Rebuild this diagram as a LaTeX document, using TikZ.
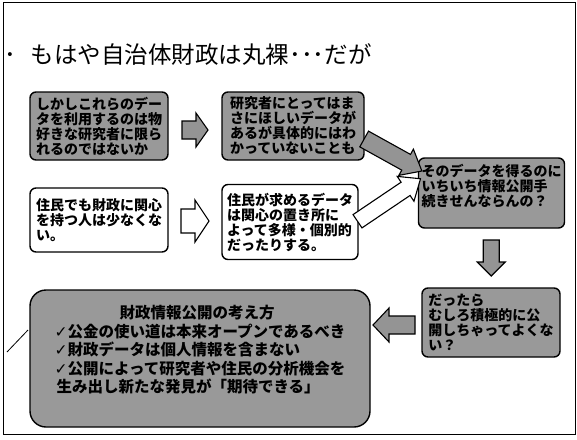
\documentclass[tikz,border=0pt]{standalone}
\usepackage{fontspec}
\setmainfont{Noto Sans CJK JP}
\newfontfamily\dvfont{DejaVu Sans}
\usetikzlibrary{calc}
% #1 style, #2 centre, #3 angle, #4 length, #5 head width, #6 shaft width, #7 head length, #8 name
\newcommand{\myblockarrow}[8]{%
  \begin{scope}[shift={#2},rotate=#3]
    \coordinate (#8) at (0,0);
    \draw[#1] (-#4/2,-#6/2) -- (#4/2-#7,-#6/2) -- (#4/2-#7,-#5/2) -- (#4/2,0)
      -- (#4/2-#7,#5/2) -- (#4/2-#7,#6/2) -- (-#4/2,#6/2) -- cycle;
  \end{scope}}
\begin{document}
\begin{tikzpicture}[x=1pt,y=-1pt,
  darkbox/.style={draw=black,line width=1.4pt,rounded corners=6pt,fill=black!40,
    font=\bfseries\fontsize{14}{15}\selectfont,align=left,inner sep=3pt},
  lightbox/.style={draw=black,line width=1.4pt,rounded corners=6pt,fill=white,
    font=\bfseries\fontsize{14}{15}\selectfont,align=left,inner sep=3pt},
  darrow/.style={draw=black,line width=1.1pt,fill=black!42,line join=miter},
  larrow/.style={draw=black,line width=1.1pt,fill=white,line join=miter}]
\useasboundingbox (0,0) rectangle (577,439);
% slide frame
\draw[line width=1pt] (3,2) rectangle (575,434);
% title
\node[anchor=west,font=\fontsize{23.5}{26}\selectfont,inner sep=0pt] (title) at (4,55)
  {･\hspace{15pt}もはや自治体財政は丸裸･･･だが};
% boxes
\node[darkbox,minimum width=138pt,minimum height=68pt] (b1) at (99,126)
  {しかしこれらのデー\\タを利用するのは物\\好きな研究者に限ら\\れるのではないか};
\node[darkbox,minimum width=142pt,minimum height=68pt] (b2) at (293,126)
  {研究者にとってはま\\さにほしいデータが\\あるが具体的にはわ\\かっていないことも};
\node[lightbox,minimum width=138pt,minimum height=64pt] (b3) at (99,220)
  {住民でも財政に関心\\を持つ人は少なくな\\い。};
\node[lightbox,minimum width=136pt,minimum height=75pt] (b4) at (290,222)
  {住民が求めるデータ\\は関心の置き所に\\よって多様・個別的\\だったりする。};
\node[darkbox,minimum width=135pt,minimum height=70pt] (b5) at (491.5,193)
  {そのデータを得るのに\\いちいち情報公開手\\続きせんならんの？\\\mbox{}};
\node[darkbox,minimum width=138pt,minimum height=69pt] (b6) at (491,322.5)
  {だったら\\むしろ積極的に公\\開しちゃってよくな\\い？};
\node[darkbox,rounded corners=16pt,minimum width=340pt,minimum height=137pt,
  font=\bfseries\fontsize{15.5}{18.5}\selectfont] (b7) at (200,358.5)
  {\hspace{65pt}財政情報公開の考え方\\
   {\dvfont ✓}公金の使い道は本来オープンであるべき\\
   {\dvfont ✓}財政データは個人情報を含まない\\
   {\dvfont ✓}公開によって研究者や住民の分析機会を\\
   \hspace{2pt}生み出し新たな発見が「期待できる」\\\mbox{}};
% block arrows
\myblockarrow{darrow}{($(b1.east)!0.5!(b2.west)+(0,4)$)}{0}{26}{34}{18}{12}{a1}
\myblockarrow{darrow}{(393,155)}{-29}{66}{30}{18}{18}{a2}
\myblockarrow{larrow}{($(b3.east)!0.5!(b4.west)$)}{0}{28}{42}{24}{14}{a3}
\myblockarrow{larrow}{(389,200)}{34}{76}{30}{16}{18}{a4}
\myblockarrow{darrow}{($(b5.south)!0.5!(b6.north)$)}{-90}{36}{28}{16}{14}{a5}
\myblockarrow{darrow}{(394,325)}{180}{42}{34}{18}{16}{a6}
% small stroke at left
\coordinate (s1) at (7,352);
\coordinate (s2) at (28,330);
\draw[line width=0.8pt] (s1) -- (s2);
\end{tikzpicture}
\end{document}
